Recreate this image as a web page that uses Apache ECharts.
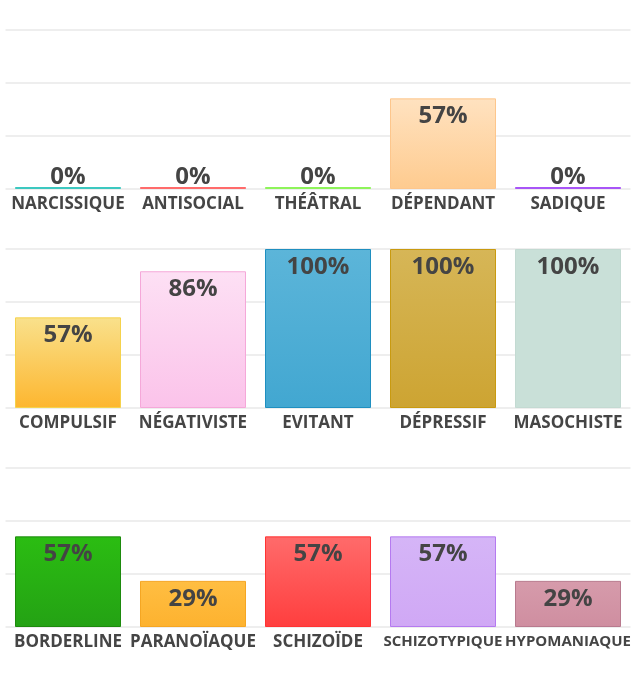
<!DOCTYPE html>
<html>
<head>
<meta charset="utf-8">
<script src="https://cdn.jsdelivr.net/npm/echarts@6/dist/echarts.min.js"></script>
<style>
html,body{margin:0;padding:0;background:#fff;}
#chart{width:635px;height:690px;}
</style>
</head>
<body>
<div id="chart"></div>
<script>
var categories1 = ['NARCISSIQUE', 'ANTISOCIAL', 'THÉÂTRAL', 'DÉPENDANT', 'SADIQUE'];
var values1 = [0, 0, 0, 57, 0];
var categories2 = ['COMPULSIF', 'NÉGATIVISTE', 'EVITANT', 'DÉPRESSIF', 'MASOCHISTE'];
var values2 = [57, 86, 100, 100, 100];
var categories3 = ['BORDERLINE', 'PARANOÏAQUE', 'SCHIZOÏDE', 'SCHIZOTYPIQUE', 'HYPOMANIAQUE'];
var values3 = [57, 29, 57, 57, 29];

var topColors = [
  ['#5ad6cf', '#ff7b7b', '#9cf46e', '#ffe2c0', '#b873f5'],
  ['#f9e18c', '#fde0f4', '#5cb5d9', '#d6b657', '#c9e0d8'],
  ['#2bbd12', '#ffbe42', '#ff6b6b', '#d5b5f7', '#d69bab']
];
var bottomColors = [
  ['#3cc8c0', '#ff6b6b', '#8ef45a', '#fecb8f', '#a855f7'],
  ['#fdb62f', '#fbc3ea', '#42a7d1', '#cda432', '#c9e0d8'],
  ['#24a214', '#fdb22f', '#ff3e3e', '#d0a8f5', '#cf8ea0']
];
var borderColors = [
  ['#3cc8c0', '#ff6b6b', '#8ef45a', '#fdc68c', '#a855f7'],
  ['#f5d24c', '#f5a8d9', '#1f8fc0', '#c99a10', '#c3dad2'],
  ['#1d8a0d', '#f5a623', '#ff3333', '#b57af0', '#b87a8e']
];

var cats = [categories1, categories2, categories3];
var vals = [values1, values2, values3];
var tops = [30, 249, 468];
var H = 159;

var grids = [], xAxes = [], yAxes = [], series = [];
for (var r = 0; r < 3; r++) {
  grids.push({ left: 5.5, width: 625, top: tops[r], height: H, containLabel: false });
  xAxes.push({
    type: 'category', gridIndex: r, data: cats[r],
    axisLine: { show: false }, axisTick: { show: false },
    axisLabel: {
      interval: 0, margin: 7, hideOverlap: false,
      fontFamily: 'Open Sans', fontWeight: 'bold', fontSize: 17, color: '#454545',
      formatter: function (v) { return v.length > 11 ? '{s|' + v + '}' : v; },
      rich: { s: { fontFamily: 'Open Sans', fontWeight: 'bold', fontSize: 15, color: '#454545' } }
    }
  });
  yAxes.push({
    type: 'value', gridIndex: r, min: 0, max: 100, interval: 100 / 3,
    axisLabel: { show: false }, axisLine: { show: false }, axisTick: { show: false },
    splitLine: { show: true, lineStyle: { color: '#e9e9e9', width: 1.5 } }
  });
  var data = [];
  for (var i = 0; i < 5; i++) {
    var v = vals[r][i];
    data.push({
      value: v,
      itemStyle: {
        color: new echarts.graphic.LinearGradient(0, 0, 0, 1, [
          { offset: 0, color: topColors[r][i] },
          { offset: 1, color: bottomColors[r][i] }
        ]),
        borderColor: borderColors[r][i],
        borderWidth: 1
      },
      label: v === 0 ? { position: 'top', distance: -2 } : { position: 'insideTop', distance: 6 }
    });
  }
  series.push({
    type: 'bar', xAxisIndex: r, yAxisIndex: r, data: data,
    barWidth: 106, barMinHeight: 2,
    label: {
      show: true, formatter: '{c}%',
      fontFamily: 'Open Sans', fontWeight: 'bold', fontSize: 24, color: '#444444'
    },
    emphasis: { disabled: true },
    animation: false
  });
}

var chart = echarts.init(document.getElementById('chart'));
chart.setOption({
  backgroundColor: '#ffffff',
  animation: false,
  grid: grids, xAxis: xAxes, yAxis: yAxes, series: series
});
</script>
</body>
</html>
